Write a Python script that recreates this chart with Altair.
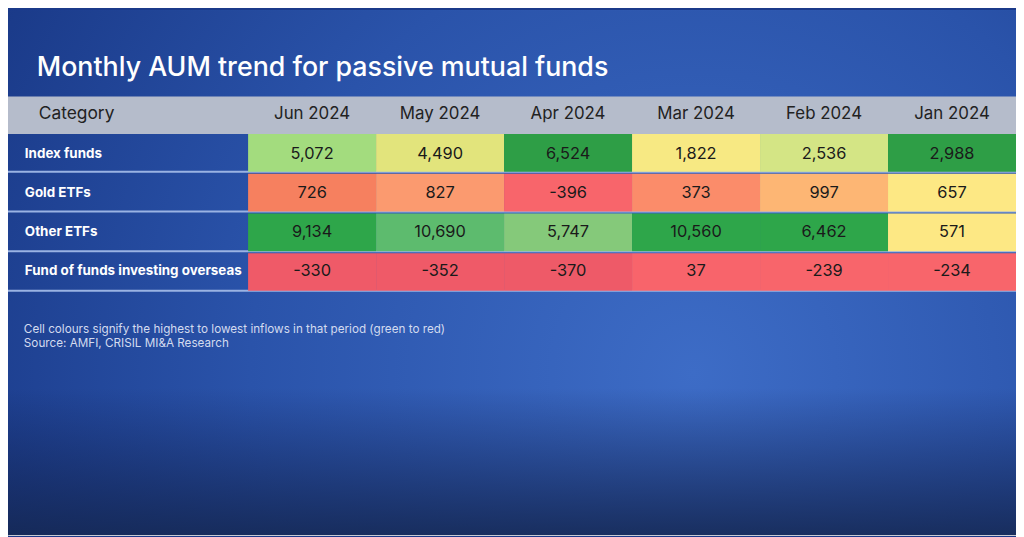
import altair as alt
import pandas as pd

# ---- data ----
categories = ["Index funds", "Gold ETFs", "Other ETFs", "Fund of funds investing overseas"]
months = ["Jun 2024", "May 2024", "Apr 2024", "Mar 2024", "Feb 2024", "Jan 2024"]
index_funds = [5072, 4490, 6524, 1822, 2536, 2988]
gold_etfs = [726, 827, -396, 373, 997, 657]
other_etfs = [9134, 10690, 5747, 10560, 6462, 571]
fof_overseas = [-330, -352, -370, 37, -239, -234]

# cell colours (green = highest, red = lowest in that month)
cell_colors = [
    ["#a3dc7e", "#e2e47c", "#2e9e46", "#f7e983", "#d4e585", "#2e9e46"],
    ["#f6805f", "#fb9a6f", "#f8656b", "#fb8c6a", "#fdb674", "#fde884"],
    ["#2ea64a", "#5dbb6e", "#85c97a", "#2ea64a", "#2ea64a", "#fde884"],
    ["#ef5a68", "#ef5a68", "#ee5a68", "#f8646b", "#f8656b", "#f8656b"],
]

title = "Monthly AUM trend for passive mutual funds"
note_lines = [
    "Cell colours signify the highest to lowest inflows in that period (green to red)",
    "Source: AMFI, CRISIL MI&A Research",
]
header_label = "Category"

rows = []
for ci, (cat, vals) in enumerate(zip(categories, [index_funds, gold_etfs, other_etfs, fof_overseas])):
    for mi, (m, v) in enumerate(zip(months, vals)):
        rows.append({"category": cat, "month": m, "value": v,
                     "label": f"{v:,}", "color": cell_colors[ci][mi]})
df = pd.DataFrame(rows)

W, H = 1016, 529
FONT = "Inter"

xscale = alt.Scale(domain=months, range=[242, W], paddingInner=0, paddingOuter=0)
yscale = alt.Scale(domain=categories, range=[125, 283], paddingInner=0.05, paddingOuter=0)

one = pd.DataFrame({"d": [0]})

bg = alt.Chart(one).mark_rect(
    color=alt.RadialGradient(
        gradient="radial", x1=0.68, y1=0.6, x2=0.68, y2=0.6, r1=0, r2=0.8,
        stops=[alt.GradientStop(offset=0, color="#3d6cc6"),
               alt.GradientStop(offset=0.55, color="#2a53aa"),
               alt.GradientStop(offset=1, color="#193886")])
).encode(x=alt.value(0), x2=alt.value(W), y=alt.value(0), y2=alt.value(H))

bg_dark = alt.Chart(one).mark_rect(
    color=alt.LinearGradient(
        gradient="linear", x1=0, y1=0, x2=0, y2=1,
        stops=[alt.GradientStop(offset=0, color="rgba(15,30,80,0)"),
               alt.GradientStop(offset=0.72, color="rgba(15,30,80,0)"),
               alt.GradientStop(offset=1, color="rgba(20,38,80,0.85)")])
).encode(x=alt.value(0), x2=alt.value(W), y=alt.value(0), y2=alt.value(H))

header = alt.Chart(one).mark_rect(color="#b5bccb").encode(
    x=alt.value(0), x2=alt.value(W), y=alt.value(87), y2=alt.value(125))

seps = alt.Chart(pd.DataFrame({"category": categories})).mark_rule(
    color="#9ab3e3", strokeWidth=2).encode(
    y=alt.Y("category:N", scale=yscale, bandPosition=1, axis=None),
    x=alt.value(0), x2=alt.value(W))

cells = alt.Chart(df).mark_rect().encode(
    x=alt.X("month:N", scale=xscale, axis=None, sort=months),
    y=alt.Y("category:N", scale=yscale, axis=None, sort=categories),
    color=alt.Color("color:N", scale=None),
)

cell_text = alt.Chart(df).mark_text(
    font=FONT, fontSize=16.5, color="#1a1a1a", baseline="middle", align="center").encode(
    x=alt.X("month:N", scale=xscale, axis=None, bandPosition=0.5),
    y=alt.Y("category:N", scale=yscale, axis=None, bandPosition=0.5),
    text="label:N",
)

cat_text = alt.Chart(pd.DataFrame({"category": categories})).mark_text(
    font=FONT, fontSize=13.5, fontWeight="bold", color="white", align="left",
    baseline="middle").encode(
    y=alt.Y("category:N", scale=yscale, axis=None, bandPosition=0.5),
    x=alt.value(17),
    text="category:N",
)

month_text = alt.Chart(pd.DataFrame({"month": months})).mark_text(
    font=FONT, fontSize=17, color="#222222", baseline="middle", align="center").encode(
    x=alt.X("month:N", scale=xscale, axis=None, bandPosition=0.5),
    y=alt.value(105),
    text="month:N",
)

cat_header = alt.Chart(pd.DataFrame({"t": [header_label]})).mark_text(
    font=FONT, fontSize=17.5, color="#222222", baseline="middle", align="left").encode(
    x=alt.value(31), y=alt.value(105), text="t:N")

title_text = alt.Chart(pd.DataFrame({"t": [title]})).mark_text(
    font=FONT, fontSize=27, fontWeight=500, color="white", baseline="alphabetic",
    align="left").encode(x=alt.value(29), y=alt.value(66), text="t:N")

notes = alt.Chart(pd.DataFrame({"t": note_lines, "i": [0, 1]})).mark_text(
    font=FONT, fontSize=11.8, color="#d3dbef", baseline="alphabetic", align="left").encode(
    x=alt.value(16),
    y=alt.Y("i:Q", scale=alt.Scale(domain=[0, 1], range=[325, 340]), axis=None),
    text="t:N")

chart = alt.layer(
    bg, bg_dark, header, seps, cells, cell_text, cat_text, month_text, cat_header,
    title_text, notes
).resolve_scale(y="independent").properties(
    width=W, height=H, autosize=alt.AutoSizeParams(type="none"), padding=0
).configure_view(stroke=None).configure(background="#1b3a8a")

chart.save("out.html", embed_options={"renderer": "svg", "actions": False})
